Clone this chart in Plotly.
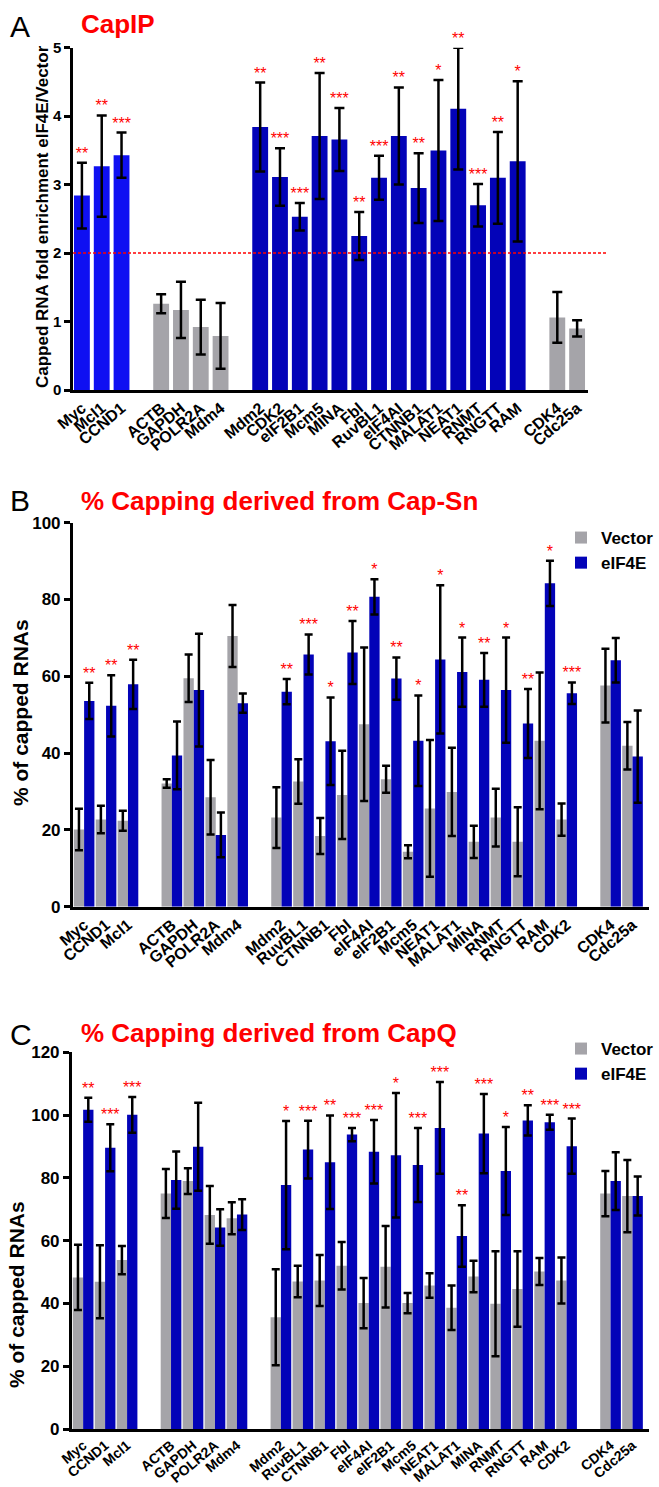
import plotly.graph_objects as go

# ---------------- DATA ----------------
A_groups = [["Myc", "Mcl1", "CCND1"],
            ["ACTB", "GAPDH", "POLR2A", "Mdm4"],
            ["Mdm2", "CDK2", "eIF2B1", "Mcm5", "MINA", "Fbl", "RuvBL1", "eIF4AI",
             "CTNNB1", "MALAT1", "NEAT1", "RNMT", "RNGTT", "RAM"],
            ["CDK4", "Cdc25a"]]
A_vals = [2.84, 3.27, 3.43, 1.26, 1.17, 0.92, 0.79, 3.84, 3.11, 2.53, 3.71, 3.66,
          2.25, 3.10, 3.71, 2.95, 3.50, 4.11, 2.70, 3.10, 3.34, 1.06, 0.90]
A_err = [0.48, 0.74, 0.33, 0.14, 0.41, 0.40, 0.48, 0.65, 0.42, 0.20, 0.92, 0.46,
         0.35, 0.32, 0.71, 0.51, 1.03, 0.89, 0.31, 0.67, 1.17, 0.37, 0.12]
A_sig = ["**", "**", "***", "", "", "", "", "**", "***", "***", "**", "***", "**",
         "***", "**", "**", "*", "**", "***", "**", "*", "", ""]
A_threshold = 2

BC_groups = [["Myc", "CCND1", "Mcl1"],
             ["ACTB", "GAPDH", "POLR2A", "Mdm4"],
             ["Mdm2", "RuvBL1", "CTNNB1", "Fbl", "eIF4AI", "eIF2B1", "Mcm5", "NEAT1",
              "MALAT1", "MINA", "RNMT", "RNGTT", "RAM", "CDK2"],
             ["CDK4", "Cdc25a"]]

B_vec = [20.1, 22.7, 22.4, 32.1, 59.5, 28.5, 70.5, 23.2, 32.6, 18.4, 29.1, 47.5,
         33.2, 14.3, 25.6, 29.9, 16.9, 23.2, 16.9, 43.2, 22.7, 57.6, 41.9]
B_vec_err = [5.4, 3.6, 2.6, 1.1, 6.2, 9.7, 8.1, 7.9, 5.8, 4.7, 11.5, 20.0, 3.5,
             1.7, 17.8, 11.5, 4.2, 7.5, 9.0, 17.8, 4.2, 9.6, 6.2]
B_e4e = [53.6, 52.3, 57.9, 39.4, 56.4, 18.7, 53.0, 56.0, 65.7, 43.1, 66.2, 80.7,
         59.4, 43.2, 64.4, 61.1, 59.1, 56.4, 47.7, 84.2, 55.6, 64.2, 39.1]
B_e4e_err = [4.7, 8.0, 6.4, 8.8, 14.7, 5.8, 2.5, 3.3, 5.2, 11.4, 8.2, 4.6, 5.5,
             11.8, 19.3, 9.0, 7.0, 13.7, 9.0, 5.9, 2.8, 5.8, 12.0]
B_sig = ["**", "**", "**", "", "", "", "", "**", "***", "*", "**", "*", "**", "*",
         "*", "*", "**", "*", "**", "*", "***", "", ""]

C_vec = [48.3, 46.9, 53.8, 75.0, 79.0, 68.2, 67.1, 35.6, 47.0, 47.3, 52.0, 40.1,
         51.7, 40.1, 45.7, 38.6, 48.6, 39.9, 44.6, 50.2, 47.3, 75.0, 74.2]
C_vec_err = [10.4, 11.6, 4.5, 7.8, 4.1, 9.2, 5.1, 15.3, 5.0, 8.1, 7.6, 8.0, 13.0,
             3.2, 3.9, 7.1, 5.0, 16.7, 12.0, 4.3, 7.3, 7.2, 11.5]
C_e4e = [101.7, 89.6, 100.1, 79.3, 89.9, 64.2, 68.3, 77.7, 89.0, 85.0, 93.8, 88.3,
         87.2, 84.1, 95.9, 61.5, 94.1, 82.2, 98.3, 97.7, 90.1, 79.0, 74.2]
C_e4e_err = [3.8, 7.5, 5.7, 9.1, 14.0, 5.8, 4.9, 20.4, 9.2, 14.9, 2.1, 10.1, 19.8,
             11.8, 14.6, 9.8, 12.6, 14.0, 4.8, 2.4, 8.8, 9.2, 6.2]
C_sig = ["**", "***", "***", "", "", "", "", "*", "***", "**", "***", "***", "*",
         "***", "***", "**", "***", "*", "**", "***", "***", "", ""]

# ---------------- STYLE ----------------
W, H = 659, 1487
FONT = "Liberation Sans, Arial, Helvetica, sans-serif"
BRIGHT = "#0F10F2"
DARK = "#0303B8"
GRAY = "#A5A4A9"
RED = "#FF0000"
A_group_colors = [BRIGHT, GRAY, DARK, GRAY]
BARGAP_BC = 0.06


def layout_positions(groups):
    pos, names, gi = [], [], []
    i = 0
    for k, g in enumerate(groups):
        for n in g:
            pos.append(i)
            names.append(n)
            gi.append(k)
            i += 1
        i += 1
    return pos, names, gi


def px_x(p):
    return p / W


def px_y(p):
    return 1 - p / H


posA, namesA, giA = layout_positions(A_groups)
posBC, namesBC, _ = layout_positions(BC_groups)

fig = go.Figure()

STAR_FONT = dict(color=RED, size=16, family=FONT)

# Panel A
fig.add_trace(go.Bar(
    x=posA, y=A_vals, width=0.8,
    marker=dict(color=[A_group_colors[g] for g in giA], line=dict(width=0)),
    error_y=dict(type="data", array=A_err, color="black", thickness=2.5, width=5),
    showlegend=False, xaxis="x", yaxis="y"))
fig.add_trace(go.Scatter(
    x=posA, y=[v + e for v, e in zip(A_vals, A_err)], text=A_sig,
    mode="text", textposition="top center", cliponaxis=False,
    textfont=STAR_FONT, showlegend=False, xaxis="x", yaxis="y"))

# Panels B, C
off = (1 - BARGAP_BC) / 4
for (vec, vec_err, e4e, e4e_err, sig, xa, ya, lg) in [
        (B_vec, B_vec_err, B_e4e, B_e4e_err, B_sig, "x2", "y2", "legend"),
        (C_vec, C_vec_err, C_e4e, C_e4e_err, C_sig, "x3", "y3", "legend2")]:
    fig.add_trace(go.Bar(
        x=posBC, y=vec, name="Vector", marker=dict(color=GRAY, line=dict(width=0)),
        error_y=dict(type="data", array=vec_err, color="black", thickness=2.5, width=4),
        xaxis=xa, yaxis=ya, legend=lg))
    fig.add_trace(go.Bar(
        x=posBC, y=e4e, name="eIF4E", marker=dict(color=DARK, line=dict(width=0)),
        error_y=dict(type="data", array=e4e_err, color="black", thickness=2.5, width=4),
        xaxis=xa, yaxis=ya, legend=lg))
    fig.add_trace(go.Scatter(
        x=[p + off for p in posBC], y=[v + e for v, e in zip(e4e, e4e_err)], text=sig,
        mode="text", textposition="top center", cliponaxis=False,
        textfont=STAR_FONT, showlegend=False, xaxis=xa, yaxis=ya))


def xaxis(dom, rng, pos, names, anchor, fs):
    return dict(domain=dom, range=rng, anchor=anchor, tickmode="array",
                tickvals=pos, ticktext=names, tickangle=-40, ticks="",
                showline=True, linewidth=2.5, linecolor="black", showgrid=False,
                zeroline=False, automargin=False,
                tickfont=dict(family=FONT, size=fs, color="black", weight="bold"))


def yaxis(dom, rng, dtick, anchor, fs):
    return dict(domain=dom, range=rng, anchor=anchor, dtick=dtick, ticks="outside",
                ticklen=6, tickwidth=2.5, tickcolor="black", showline=True,
                linewidth=2.5, linecolor="black", showgrid=False, zeroline=False,
                automargin=False,
                tickfont=dict(family=FONT, size=fs, color="black", weight="bold"))


fig.update_layout(
    width=W, height=H, margin=dict(l=0, r=0, t=0, b=0, autoexpand=False),
    paper_bgcolor="white", plot_bgcolor="white",
    barmode="group", bargap=BARGAP_BC, bargroupgap=0,
    font=dict(family=FONT, color="black"),
    xaxis=xaxis([px_x(73), px_x(588)], [-0.45, 25.55], posA, namesA, "y", 16),
    yaxis=yaxis([px_y(390), px_y(47.7)], [0, 5], 1, "x", 15),
    xaxis2=xaxis([px_x(72.7), px_x(649)], [-0.52, 25.75], posBC, namesBC, "y2", 16),
    yaxis2=yaxis([px_y(906.7), px_y(522.7)], [0, 100], 20, "x2", 17),
    xaxis3=xaxis([px_x(71.7), px_x(649)], [-0.52, 25.75], posBC, namesBC, "y3", 14),
    yaxis3=yaxis([px_y(1429), px_y(1052.3)], [0, 120], 20, "x3", 17),
    legend=dict(x=px_x(561), y=px_y(520), xanchor="left", yanchor="top",
                bgcolor="rgba(0,0,0,0)", tracegroupgap=0,
                font=dict(family=FONT, size=17, color="black", weight="bold")),
    legend2=dict(x=px_x(561), y=px_y(1031), xanchor="left", yanchor="top",
                 bgcolor="rgba(0,0,0,0)", tracegroupgap=0,
                 font=dict(family=FONT, size=17, color="black", weight="bold")),
)

fig.add_shape(type="line", xref="paper", yref="y", x0=px_x(73), x1=px_x(608),
              y0=A_threshold, y1=A_threshold,
              line=dict(color=RED, width=1.5, dash="3px,2px"))

for t, x, y in [("A", 8, 26), ("B", 8, 501), ("C", 8, 1034)]:
    fig.add_annotation(text=t, xref="paper", yref="paper", x=px_x(x), y=px_y(y),
                       xanchor="left", yanchor="middle", showarrow=False,
                       font=dict(family=FONT, size=30, color="black"))
for t, x, y in [("CapIP", 79, 24), ("% Capping derived from Cap-Sn", 79, 501),
                ("% Capping derived from CapQ", 79, 1033)]:
    fig.add_annotation(text=t, xref="paper", yref="paper", x=px_x(x), y=px_y(y),
                       xanchor="left", yanchor="middle", showarrow=False,
                       font=dict(family=FONT, size=26, color=RED, weight="bold"))
for t, x, y, s in [("Capped RNA fold enrichment eIF4E/Vector", 43, 217, 17),
                   ("% of capped RNAs", 20, 713, 21),
                   ("% of capped RNAs", 16, 1295, 21)]:
    fig.add_annotation(text=t, xref="paper", yref="paper", x=px_x(x), y=px_y(y),
                       xanchor="center", yanchor="middle", textangle=-90,
                       showarrow=False,
                       font=dict(family=FONT, size=s, color="black", weight="bold"))

fig.write_html("out.html", config={"displayModeBar": False},
               post_script="document.body.style.margin='0px';"
                           "document.body.style.overflow='hidden';")
